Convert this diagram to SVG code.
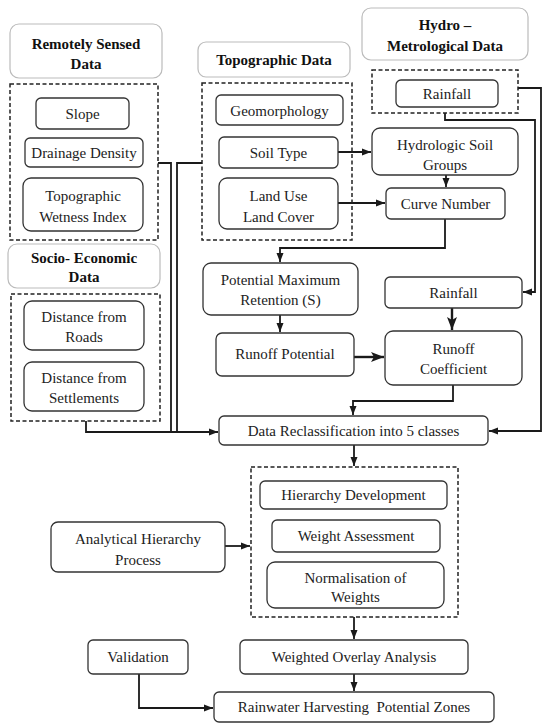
<svg xmlns="http://www.w3.org/2000/svg" width="550" height="724" viewBox="0 0 550 724">
<style>
text{font-family:"Liberation Serif","Times New Roman",serif;font-size:15px;fill:#222;text-anchor:middle}
.h{font-weight:bold;font-size:15px;fill:#111}
.hb{fill:#fff;stroke:#bbb;stroke-width:1.2}
.b{fill:#fff;stroke:#333;stroke-width:1.3}
.d{fill:none;stroke:#222;stroke-width:1.5;stroke-dasharray:4 2.5}
.c{fill:none;stroke:#1a1a1a;stroke-width:1.8}
.a{marker-end:url(#ar)}
.t{marker-end:url(#art)}
</style>
<defs>
<marker id="ar" markerUnits="userSpaceOnUse" markerWidth="10" markerHeight="8" refX="9" refY="4" orient="auto"><path d="M0,0.5 L9,4 L0,7.5 Z" fill="#1a1a1a"/></marker>
<marker id="art" markerUnits="userSpaceOnUse" markerWidth="14" markerHeight="12" refX="13" refY="6" orient="auto"><path d="M0,1 L13,6 L0,11 L3,6 Z" fill="#1a1a1a"/></marker>
</defs>
<rect width="550" height="724" fill="#fff"/>

<g id="connectors">
<path class="c a" d="M338 152 H371"/>
<path class="c a" d="M338 203 H385"/>
<path class="c a" d="M446 175 V187"/>
<path class="c a" d="M445 219 V248 H280 V262"/>
<path class="c a" d="M280 315 V332"/>
<path class="c t" d="M354 357 H384" style="stroke-width:2.4"/>
<path class="c t" d="M452 308 V330" style="stroke-width:2.4"/>
<path class="c a" d="M453 385 V401 H353 V415"/>
<path class="c a" d="M445 113 V120 H535 V292 H523"/>
<path class="c a" d="M518 88 H541 V431 H489"/>
<path class="c" d="M158 163 H171 V432"/>
<path class="c" d="M202 163 H177 V432"/>
<path class="c a" d="M86 421 V432 H218"/>
<path class="c a" d="M354 445 V466"/>
<path class="c a" d="M225 546 H250"/>
<path class="c a" d="M354 617 V639"/>
<path class="c a" d="M354 674 V691"/>
<path class="c a" d="M139 674 V708 H213"/>
</g>

<g id="remote-header"><rect class="hb" x="10" y="24" width="152" height="54" rx="9"/><text class="h" x="86" y="49">Remotely Sensed</text><text class="h" x="86" y="69">Data</text></g>
<g id="remote-group"><rect class="d" x="10" y="84" width="148" height="156"/></g>
<g id="slope"><rect class="b" x="36" y="98" width="93" height="31" rx="5"/><text x="82.5" y="119">Slope</text></g>
<g id="drainage"><rect class="b" x="25" y="138" width="118" height="29" rx="5"/><text x="84" y="158">Drainage Density</text></g>
<g id="twi"><rect class="b" x="23" y="178" width="120" height="53" rx="8"/><text x="83" y="201">Topographic</text><text x="83" y="222">Wetness Index</text></g>

<g id="socio-header"><rect class="hb" x="8" y="244" width="152" height="44" rx="9"/><text class="h" x="84" y="263">Socio- Economic</text><text class="h" x="84" y="282">Data</text></g>
<g id="socio-group"><rect class="d" x="11" y="294" width="149" height="127"/></g>
<g id="roads"><rect class="b" x="24" y="301" width="120" height="49" rx="8"/><text x="84" y="322">Distance from</text><text x="84" y="342">Roads</text></g>
<g id="settlements"><rect class="b" x="24" y="362" width="120" height="49" rx="8"/><text x="84" y="383">Distance from</text><text x="84" y="403">Settlements</text></g>

<g id="topo-header"><rect class="hb" x="198" y="42" width="152" height="35" rx="8"/><text class="h" x="274" y="65">Topographic Data</text></g>
<g id="topo-group"><rect class="d" x="202" y="83" width="150" height="157"/></g>
<g id="geomorphology"><rect class="b" x="216" y="95" width="127" height="30" rx="5"/><text x="279.5" y="116">Geomorphology</text></g>
<g id="soil"><rect class="b" x="219" y="137" width="119" height="31" rx="5"/><text x="278.5" y="158">Soil Type</text></g>
<g id="lulc"><rect class="b" x="219" y="178" width="119" height="51" rx="8"/><text x="278.5" y="201">Land Use</text><text x="278.5" y="222">Land Cover</text></g>

<g id="hydro-header"><rect class="hb" x="362" y="8" width="166" height="52" rx="9"/><text class="h" x="445" y="30">Hydro –</text><text class="h" x="445" y="51">Metrological Data</text></g>
<g id="hydro-group"><rect class="d" x="372" y="70" width="146" height="43"/></g>
<g id="rainfall1"><rect class="b" x="396" y="80" width="102" height="27" rx="5"/><text x="447" y="99">Rainfall</text></g>
<g id="hsg"><rect class="b" x="372" y="128" width="146" height="47" rx="8"/><text x="445" y="150">Hydrologic Soil</text><text x="445" y="170">Groups</text></g>
<g id="cn"><rect class="b" x="386" y="188" width="119" height="31" rx="5"/><text x="445.5" y="209">Curve Number</text></g>

<g id="pmr"><rect class="b" x="203" y="263" width="155" height="52" rx="8"/><text x="280.5" y="285">Potential Maximum</text><text x="280.5" y="305">Retention (S)</text></g>
<g id="runoff-potential"><rect class="b" x="216" y="333" width="138" height="43" rx="6"/><text x="285" y="359">Runoff Potential</text></g>
<g id="rainfall2"><rect class="b" x="385" y="277" width="137" height="31" rx="5"/><text x="453.5" y="298">Rainfall</text></g>
<g id="runoff-coef"><rect class="b" x="385" y="331" width="137" height="54" rx="8"/><text x="453.5" y="354">Runoff</text><text x="453.5" y="374">Coefficient</text></g>

<g id="reclass"><rect class="b" x="219" y="416" width="269" height="29" rx="5"/><text x="353.5" y="436">Data Reclassification into 5 classes</text></g>

<g id="ahp-group"><rect class="d" x="251" y="467" width="207" height="150"/></g>
<g id="hierarchy"><rect class="b" x="260" y="481" width="187" height="28" rx="5"/><text x="353.5" y="500">Hierarchy Development</text></g>
<g id="weight"><rect class="b" x="272" y="520" width="168" height="32" rx="5"/><text x="356" y="541">Weight Assessment</text></g>
<g id="normalisation"><rect class="b" x="267" y="562" width="177" height="46" rx="8"/><text x="355.5" y="583">Normalisation of</text><text x="355.5" y="602">Weights</text></g>
<g id="ahp"><rect class="b" x="51" y="522" width="174" height="50" rx="7"/><text x="138" y="544">Analytical Hierarchy</text><text x="138" y="565">Process</text></g>

<g id="overlay"><rect class="b" x="240" y="640" width="228" height="34" rx="5"/><text x="354" y="662">Weighted Overlay Analysis</text></g>
<g id="validation"><rect class="b" x="88" y="640" width="100" height="34" rx="5"/><text x="138" y="662">Validation</text></g>
<g id="rwh"><rect class="b" x="214" y="692" width="280" height="30" rx="5"/><text x="354" y="712" style="white-space:pre">Rainwater Harvesting  Potential Zones</text></g>
</svg>
